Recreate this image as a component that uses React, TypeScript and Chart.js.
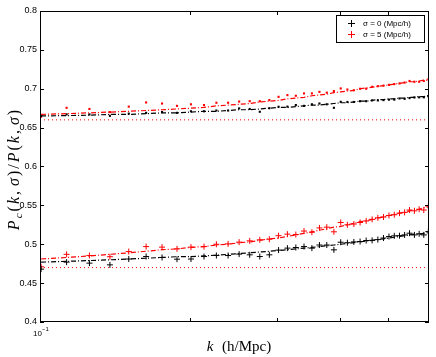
import React, { useEffect, useRef } from "react";
import { Chart, registerables } from "chart.js";
Chart.register(...registerables);

// wavenumbers k (h/Mpc)
const kValues = [
  0.1005, 0.1131, 0.1257, 0.1382, 0.1508, 0.1634, 0.1759, 0.1885, 0.2011, 0.2136,
  0.2262, 0.2388, 0.2513, 0.2639, 0.2765, 0.289, 0.3016, 0.3142, 0.3267, 0.3393,
  0.3519, 0.3644, 0.377, 0.3896, 0.4021, 0.4147, 0.4273, 0.4398, 0.4524, 0.465,
  0.4775, 0.4901, 0.5027, 0.5152, 0.5278, 0.5404, 0.5529, 0.5655, 0.5781, 0.5906,
  0.6032,
];

// lower group, measured (+ markers)
const lowerSigma0 = [
  0.468, 0.477, 0.4757, 0.4735, 0.481, 0.4842, 0.483, 0.4808, 0.481, 0.4842,
  0.4855, 0.4855, 0.4873, 0.4864, 0.4842, 0.4864, 0.4925, 0.495, 0.4958, 0.497,
  0.495, 0.499, 0.499, 0.4928, 0.5026, 0.502, 0.503, 0.5035, 0.5048, 0.505,
  0.506, 0.508, 0.5099, 0.5108, 0.511, 0.512, 0.5142, 0.512, 0.5134, 0.512,
  0.5163,
];
const lowerSigma5 = [
  0.471, 0.487, 0.4855, 0.484, 0.4906, 0.497, 0.4963, 0.4941, 0.4963, 0.497,
  0.5, 0.5005, 0.5027, 0.5044, 0.5057, 0.5065, 0.511, 0.513, 0.5125, 0.517,
  0.5155, 0.521, 0.522, 0.516, 0.528, 0.525, 0.526, 0.528, 0.53, 0.532,
  0.534, 0.535, 0.537, 0.538, 0.54, 0.541, 0.544, 0.543, 0.545, 0.544,
  0.549,
];
// lower group, model curves (dash-dot)
const lowerModel0 = [
  0.477, 0.478, 0.479, 0.48, 0.481, 0.482, 0.483, 0.484, 0.484, 0.485,
  0.486, 0.487, 0.488, 0.489, 0.49, 0.491, 0.492, 0.493, 0.494, 0.495,
  0.496, 0.497, 0.498, 0.499, 0.5, 0.501, 0.502, 0.503, 0.504, 0.505,
  0.506, 0.507, 0.508, 0.509, 0.51, 0.511, 0.512, 0.513, 0.513, 0.514,
  0.515,
];
const lowerModel5 = [
  0.481, 0.483, 0.485, 0.487, 0.489, 0.491, 0.493, 0.494, 0.496, 0.497,
  0.499, 0.5, 0.502, 0.503, 0.505, 0.507, 0.508, 0.51, 0.512, 0.514,
  0.516, 0.518, 0.52, 0.522, 0.523, 0.525, 0.527, 0.529, 0.53, 0.532,
  0.534, 0.535, 0.537, 0.538, 0.54, 0.541, 0.543, 0.544, 0.545, 0.547,
  0.548,
];

// upper group, measured (dots)
const upperSigma0 = [
  0.665, 0.667, 0.667, 0.6652, 0.668, 0.669, 0.67, 0.669, 0.671, 0.671,
  0.672, 0.672, 0.6747, 0.674, 0.6704, 0.675, 0.6768, 0.677, 0.679, 0.678,
  0.68, 0.681, 0.68, 0.6755, 0.6832, 0.683, 0.683, 0.684, 0.684, 0.685,
  0.685, 0.6854, 0.686, 0.686, 0.6875, 0.687, 0.688, 0.6888, 0.689, 0.689,
  0.6905,
];
const upperSigma5 = [
  0.664, 0.6755, 0.674, 0.67, 0.677, 0.6824, 0.681, 0.678, 0.68, 0.679,
  0.682, 0.682, 0.6835, 0.684, 0.684, 0.6854, 0.6896, 0.6918, 0.691, 0.694,
  0.694, 0.696, 0.695, 0.697, 0.7004, 0.699, 0.698, 0.7, 0.7, 0.7025,
  0.7033, 0.704, 0.705, 0.706, 0.7068, 0.708, 0.71, 0.709, 0.709, 0.71,
  0.712,
];
// upper group, model curves
const upperModel0 = [
  0.665, 0.6655, 0.666, 0.667, 0.667, 0.668, 0.669, 0.669, 0.67, 0.671,
  0.671, 0.672, 0.673, 0.673, 0.674, 0.675, 0.676, 0.676, 0.677, 0.678,
  0.679, 0.679, 0.68, 0.681, 0.682, 0.682, 0.683, 0.684, 0.684, 0.685,
  0.686, 0.686, 0.687, 0.687, 0.688, 0.688, 0.689, 0.689, 0.69, 0.69,
  0.691,
];
const upperModel5 = [
  0.667, 0.668, 0.669, 0.67, 0.671, 0.672, 0.673, 0.674, 0.675, 0.676,
  0.678, 0.679, 0.68, 0.681, 0.683, 0.684, 0.685, 0.687, 0.688, 0.689,
  0.691, 0.692, 0.693, 0.695, 0.696, 0.697, 0.698, 0.7, 0.701, 0.702,
  0.703, 0.704, 0.705, 0.706, 0.707, 0.708, 0.709, 0.709, 0.71, 0.711,
  0.711,
];

// reference (dotted) levels
const refLevels = [0.66, 0.47];

const xRange = [0.1, 0.605];
const yRange = [0.4, 0.8];
const yStep = 0.05;
const xMinorTicks = [0.2, 0.3, 0.4, 0.5];
const legendLabels = ["σ = 0 (Mpc/h)", "σ = 5 (Mpc/h)"];

const RED = "#ff0000";
const BLACK = "#000000";

const pts = (ys: number[]) => kValues.map((x, i) => ({ x, y: ys[i] }));

type Seg = { t: string; it?: boolean; sub?: boolean; gap?: number };

function drawRich(
  ctx: CanvasRenderingContext2D,
  segs: Seg[],
  cx: number,
  cy: number,
  size: number,
  spacing: number
) {
  const items: { c: string; font: string; w: number; dy: number }[] = [];
  for (const s of segs) {
    if (s.gap) {
      items.push({ c: "", font: "", w: s.gap, dy: 0 });
      continue;
    }
    const fs = s.sub ? size * 0.7 : size;
    const font = `${s.it ? "italic " : ""}${fs}px "Liberation Serif", serif`;
    ctx.font = font;
    items.push({ c: s.t, font, w: ctx.measureText(s.t).width + spacing, dy: s.sub ? size * 0.22 : 0 });
  }
  const total = items.reduce((a, b) => a + b.w, 0) - spacing;
  let x = cx - total / 2;
  ctx.textBaseline = "alphabetic";
  ctx.textAlign = "left";
  for (const it of items) {
    if (it.c) {
      ctx.font = it.font;
      ctx.fillText(it.c, x, cy + size * 0.35 + it.dy);
    }
    x += it.w;
  }
}

export default function App() {
  const ref = useRef<HTMLCanvasElement>(null);
  useEffect(() => {
    const canvas = ref.current!;
    const overlay = {
      id: "overlay",
      afterDraw(chart: any) {
        const ctx: CanvasRenderingContext2D = chart.ctx;
        const { left, right, top, bottom } = chart.chartArea;
        const xs = chart.scales.x;
        const ys = chart.scales.y;
        ctx.save();
        ctx.strokeStyle = "#000";
        ctx.lineWidth = 1;
        // box
        ctx.strokeRect(Math.round(left) + 0.5, Math.round(top) + 0.5, Math.round(right - left) - 1, Math.round(bottom - top) - 1);
        // ticks inward
        ctx.beginPath();
        for (let v = yRange[0]; v <= yRange[1] + 1e-9; v += yStep) {
          const y = Math.round(ys.getPixelForValue(v)) + 0.5;
          ctx.moveTo(left, y);
          ctx.lineTo(left + 4, y);
          ctx.moveTo(right, y);
          ctx.lineTo(right - 4, y);
        }
        for (const v of xMinorTicks) {
          const x = Math.round(xs.getPixelForValue(v)) + 0.5;
          ctx.moveTo(x, bottom);
          ctx.lineTo(x, bottom - 4);
          ctx.moveTo(x, top);
          ctx.lineTo(x, top + 4);
        }
        ctx.stroke();

        // x tick label 10^-1
        ctx.fillStyle = "#000";
        ctx.textAlign = "left";
        ctx.textBaseline = "alphabetic";
        ctx.font = '8px "Liberation Sans", Arial, sans-serif';
        const x0 = xs.getPixelForValue(xRange[0]);
        ctx.fillText("10", x0 - 7, 336);
        ctx.font = '6px "Liberation Sans", Arial, sans-serif';
        ctx.fillText("−1", x0 + 2, 331);

        // axis labels
        drawRich(
          ctx,
          [{ t: "k", it: true }, { t: "", gap: 8 }, { t: "(h/Mpc)" }],
          239,
          346,
          15,
          0.6
        );
        ctx.save();
        ctx.translate(13, 170);
        ctx.rotate(-Math.PI / 2);
        drawRich(
          ctx,
          [
            { t: "P", it: true },
            { t: "c", it: true, sub: true },
            { t: "(" },
            { t: "k", it: true },
            { t: "," },
            { t: "", gap: 3 },
            { t: "σ", it: true },
            { t: ")" },
            { t: "/" },
            { t: "P", it: true },
            { t: "(" },
            { t: "k", it: true },
            { t: "," },
            { t: "", gap: 3 },
            { t: "σ", it: true },
            { t: ")" },
          ],
          0,
          0,
          16,
          2
        );
        ctx.restore();

        // legend
        const lx = 336.5, ly = 15.5, lw = 88, lh = 27;
        ctx.fillStyle = "#fff";
        ctx.fillRect(lx, ly, lw, lh);
        ctx.strokeStyle = "#000";
        ctx.strokeRect(lx, ly, lw, lh);
        const rows = [
          { c: BLACK, y: 23, t: legendLabels[0] },
          { c: RED, y: 34, t: legendLabels[1] },
        ];
        for (const r of rows) {
          ctx.strokeStyle = r.c;
          ctx.beginPath();
          ctx.moveTo(348, r.y + 0.5);
          ctx.lineTo(355, r.y + 0.5);
          ctx.moveTo(351.5, r.y - 3);
          ctx.lineTo(351.5, r.y + 4);
          ctx.stroke();
          ctx.fillStyle = "#000";
          ctx.font = '8px "Liberation Sans", Arial, sans-serif';
          ctx.textBaseline = "middle";
          ctx.fillText(r.t, 363, r.y + 0.5);
        }
        ctx.restore();
      },
    };

    const dotted = (y: number, color: string) => ({
      data: [
        { x: xRange[0], y },
        { x: xRange[1], y },
      ],
      borderColor: color,
      borderWidth: 1,
      borderDash: [1, 3],
      pointRadius: 0,
      fill: false,
    });
    const model = (ys: number[], color: string) => ({
      data: pts(ys),
      borderColor: color,
      borderWidth: 1.2,
      borderDash: [5, 2, 1, 2],
      pointRadius: 0,
      fill: false,
      tension: 0,
    });
    const crosses = (ys: number[], color: string) => ({
      data: pts(ys),
      showLine: false,
      pointStyle: "cross",
      pointRadius: 3,
      borderColor: color,
      backgroundColor: color,
      borderWidth: 1,
    });
    const dots = (ys: number[], color: string) => ({
      data: pts(ys),
      showLine: false,
      pointStyle: "rect",
      pointRadius: 1.5,
      borderWidth: 0,
      borderColor: color,
      backgroundColor: color,
    });

    const chart = new Chart(canvas, {
      type: "line",
      data: {
        datasets: [
          dotted(refLevels[0], RED),
          dotted(refLevels[1], RED),
          model(upperModel0, BLACK),
          model(upperModel5, RED),
          model(lowerModel0, BLACK),
          model(lowerModel5, RED),
          dots(upperSigma0, BLACK),
          dots(upperSigma5, RED),
          crosses(lowerSigma0, BLACK),
          crosses(lowerSigma5, RED),
        ] as any,
      },
      options: {
        responsive: false,
        animation: false,
        layout: { padding: { top: 11, right: 7, left: 0, bottom: 0 } },
        plugins: { legend: { display: false }, tooltip: { enabled: false } },
        scales: {
          x: {
            type: "logarithmic",
            min: xRange[0],
            max: xRange[1],
            grid: { display: false, drawTicks: false },
            border: { display: false },
            ticks: { display: false },
            afterFit: (s: any) => {
              s.height = 35;
            },
          },
          y: {
            type: "linear",
            min: yRange[0],
            max: yRange[1],
            grid: { display: false, drawTicks: false },
            border: { display: false },
            ticks: {
              stepSize: yStep,
              padding: 3,
              color: "#000",
              font: { family: '"Liberation Sans", Arial, sans-serif', size: 9 },
              callback: (v: any) => String(Math.round(Number(v) * 100) / 100),
            },
            afterFit: (s: any) => {
              s.width = 40;
            },
          },
        },
      } as any,
      plugins: [overlay],
    });
    return () => chart.destroy();
  }, []);
  return (
    <div style={{ position: "fixed", left: 0, top: 0, width: 436, height: 357, background: "#fff" }}>
      <canvas ref={ref} width={436} height={357} style={{ display: "block" }} />
    </div>
  );
}
